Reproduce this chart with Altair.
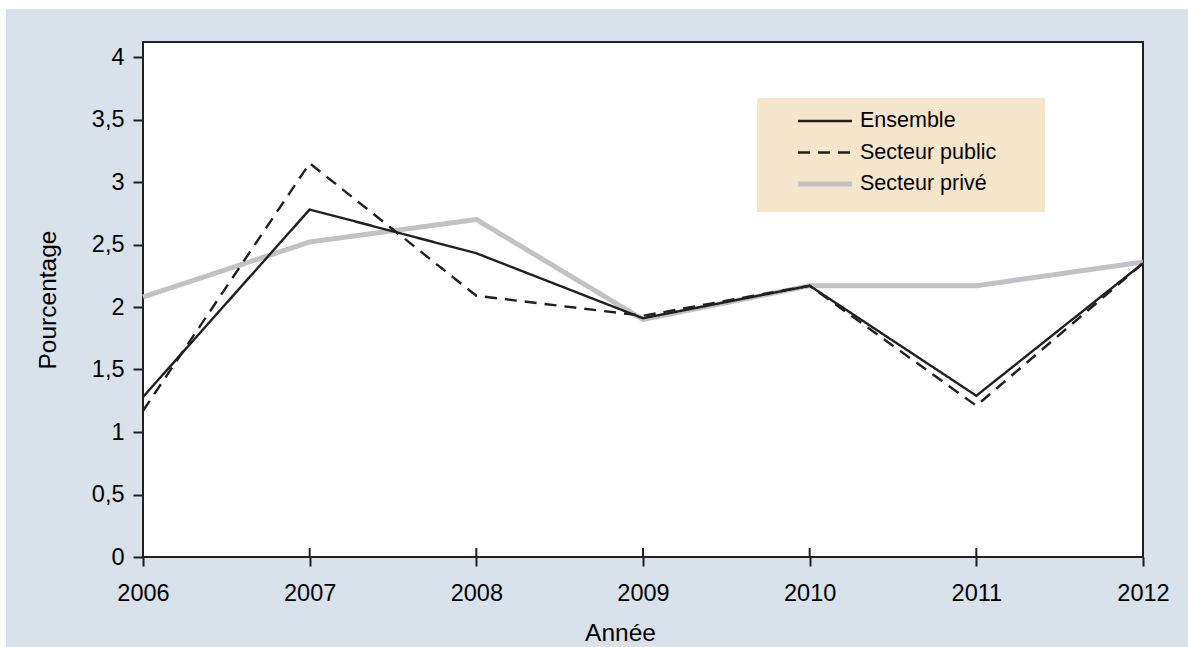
import altair as alt
import pandas as pd

years = [2006, 2007, 2008, 2009, 2010, 2011, 2012]
ensemble = [1.28, 2.78, 2.43, 1.91, 2.17, 1.29, 2.35]
secteur_public = [1.17, 3.15, 2.09, 1.93, 2.17, 1.21, 2.35]
secteur_prive = [2.08, 2.52, 2.70, 1.90, 2.17, 2.17, 2.36]
series_names = ["Ensemble", "Secteur public", "Secteur privé"]
y_ticks = [0, 0.5, 1, 1.5, 2, 2.5, 3, 3.5, 4]

series_colors = ["#231f20", "#231f20", "#c2c2c6"]
series_dash = [[1, 0], [12, 8], [1, 0]]
series_widths = [2.4, 2.4, 5]

BG = "#d9e1ea"
LEG_BG = "#f5e5cb"
INK = "#231f20"
FONT = "Liberation Sans"
W, H = 1000, 515

rows = []
for name, vals in zip(series_names, [ensemble, secteur_public, secteur_prive]):
    for yr, v in zip(years, vals):
        rows.append({"annee": yr, "valeur": v, "serie": name})
df = pd.DataFrame(rows)

x_enc = alt.X(
    "annee:Q",
    scale=alt.Scale(domain=[2006, 2012], nice=False, zero=False),
    axis=alt.Axis(
        values=years, format="d", title="Année", domain=False, grid=False,
        labelFlush=False, labelOverlap=False,
        tickSize=9, tickWidth=2, tickColor=INK,
        labelFont=FONT, labelFontSize=23.5, labelColor="black", labelPadding=15,
        titleFont=FONT, titleFontSize=24.5, titleFontWeight="normal", titleColor="black",
        titleX=477, titleY=76, titleAlign="center", titleBaseline="middle",
        zindex=2,
    ),
)
y_enc = alt.Y(
    "valeur:Q",
    scale=alt.Scale(domain=[0, 4.12], nice=False),
    axis=alt.Axis(
        values=y_ticks, labelExpr="replace(toString(datum.value), '.', ',')",
        title="Pourcentage", domain=False, grid=False, labelOverlap=False,
        tickSize=10, tickWidth=2, tickColor=INK,
        labelFont=FONT, labelFontSize=23.5, labelColor="black", labelPadding=9,
        titleFont=FONT, titleFontSize=24.5, titleFontWeight="normal", titleColor="black",
        titleX=-95, titleY=H / 2, titleAngle=270, titleAlign="center", titleBaseline="middle",
        zindex=2,
    ),
)
color_enc = alt.Color("serie:N", scale=alt.Scale(domain=series_names, range=series_colors), title=None)
dash_enc = alt.StrokeDash("serie:N", scale=alt.Scale(domain=series_names, range=series_dash), title=None)
width_enc = alt.StrokeWidth(
    "serie:N", scale=alt.Scale(type="ordinal", domain=series_names, range=series_widths), title=None
)

one = alt.Data(values=[{}])

bg = alt.Chart(one).mark_rect(color=BG).encode(
    x=alt.value(-137), x2=alt.value(1045), y=alt.value(-33), y2=alt.value(605)
)
frame = alt.Chart(one).mark_rect(fill="white", stroke=INK, strokeWidth=2).encode(
    x=alt.value(0), x2=alt.value(W), y=alt.value(0), y2=alt.value(H)
)
legend_box = alt.Chart(one).mark_rect(color=LEG_BG).encode(
    x=alt.value(614), x2=alt.value(902), y=alt.value(56), y2=alt.value(170)
)
inner_ticks = alt.Chart(pd.DataFrame({"annee": years})).mark_rule(color=INK, strokeWidth=2).encode(
    x=alt.X("annee:Q"), y=alt.value(H - 9), y2=alt.value(H)
)

def series_layer(name):
    return alt.Chart(df).transform_filter(alt.datum.serie == name).mark_line(
        strokeJoin="miter", strokeCap="butt"
    ).encode(
        x=x_enc, y=y_enc, color=color_enc, strokeDash=dash_enc, strokeWidth=width_enc
    )

chart = alt.layer(
    bg, frame, legend_box,
    series_layer("Secteur privé"),
    series_layer("Secteur public"),
    series_layer("Ensemble"),
    inner_ticks,
).properties(
    width=W, height=H,
    background="white",
    padding={"left": 143, "top": 42, "right": 45, "bottom": 90},
    autosize=alt.AutoSizeParams(type="none"),
).configure_view(
    stroke=None
).configure_legend(
    orient="none", legendX=652.5, legendY=68, padding=0,
    symbolType="stroke", symbolSize=2916, clipHeight=22, rowPadding=9.5,
    labelFont=FONT, labelFontSize=21.5, labelColor="black", labelOffset=5.5,
)

chart.save("out.html", embed_options={"renderer": "svg", "actions": False})
